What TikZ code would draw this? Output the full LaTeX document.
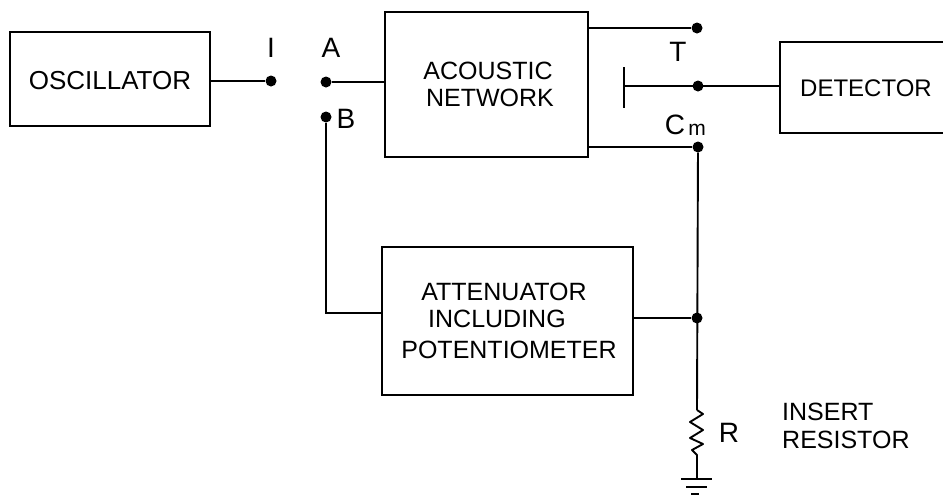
\documentclass[tikz,border=0pt]{standalone}
\usepackage{fontspec}
\setmainfont{Liberation Sans}
\begin{document}
\begin{tikzpicture}[x=1pt,y=-1pt,
 wire/.style={line width=1.9pt,black},
 blockbox/.style={draw,line width=2pt,inner sep=0pt},
 dotn/.style={circle,fill=black,inner sep=0pt,minimum size=11pt},
 tx/.style={font=\fontsize{25}{27}\selectfont,inner sep=0pt},
 lab/.style={font=\fontsize{28}{30}\selectfont,inner sep=0pt}]
\useasboundingbox (0,0) rectangle (943,496);
\node[blockbox,minimum width=200pt,minimum height=94pt] (osc) at (110,79) {};
\node[blockbox,minimum width=203pt,minimum height=145pt] (net) at (486.5,84.5) {};
\node[blockbox,minimum width=251pt,minimum height=148pt] (att) at (507.5,321) {};
\node[blockbox,minimum width=190pt,minimum height=91pt,anchor=west] (det) at (779,87.5) {};
\node[tx,font=\fontsize{26}{27}\selectfont] at (110,81) {OSCILLATOR};
\node[tx,font=\fontsize{24}{27}\selectfont] at (866,88) {DETECTOR};
\node[tx] at (488,71) {ACOUSTIC};
\node[tx] at (490,98) {NETWORK};
\node[tx] at (504,292) {ATTENUATOR};
\node[tx] at (497,319) {INCLUDING};
\node[tx] at (509,350) {POTENTIOMETER};
\node[dotn] (i) at (271,81) {};
\node[dotn] (a) at (326,82) {};
\node[dotn] (b) at (326,117) {};
\node[dotn] (t1) at (697,28) {};
\node[dotn] (t2) at (698,86) {};
\node[dotn] (cm) at (698,147) {};
\node[dotn] (j) at (697,318) {};
\coordinate (bar) at (624,86);
\coordinate (rt) at (697,410);
\coordinate (gnd) at (697,479);
\draw[wire] (osc.east |- i) -- (i);
\draw[wire] (a) -- (net.west |- a);
\draw[wire] (b) -- (326,313) -- (att.west |- 0,313);
\draw[wire] (net.east |- t1) -- (t1);
\draw[wire] (net.east |- cm) -- (cm);
\draw[wire] (bar) -- (det.west |- bar);
\draw[wire] (624,67) -- (624,108);
\draw[wire] (cm) -- (rt);
\draw[wire] (att.east |- j) -- (j);
\draw[wire,line join=round] (rt) -- (703,414) -- (690,422) -- (703,430) -- (690,438) -- (703,444) -- (692,450) -- (697,455) -- (gnd);
\draw[wire] (681,479) -- (712,479);
\draw[wire] (686,487) -- (707,487);
\draw[wire] (691,494) -- (699,494);
\node[lab] at (271,48) {I};
\node[lab] at (331,48) {A};
\node[lab] at (346,119) {B};
\node[lab] at (678,52) {T};
\node[lab] at (675,125) {C};
\node[font=\fontsize{21}{24}\selectfont,inner sep=0pt] at (697,130) {m};
\node[lab] at (729,433) {R};
\node[tx,anchor=west] at (782,412) {INSERT};
\node[tx,anchor=west] at (782,440) {RESISTOR};
\end{tikzpicture}
\end{document}
